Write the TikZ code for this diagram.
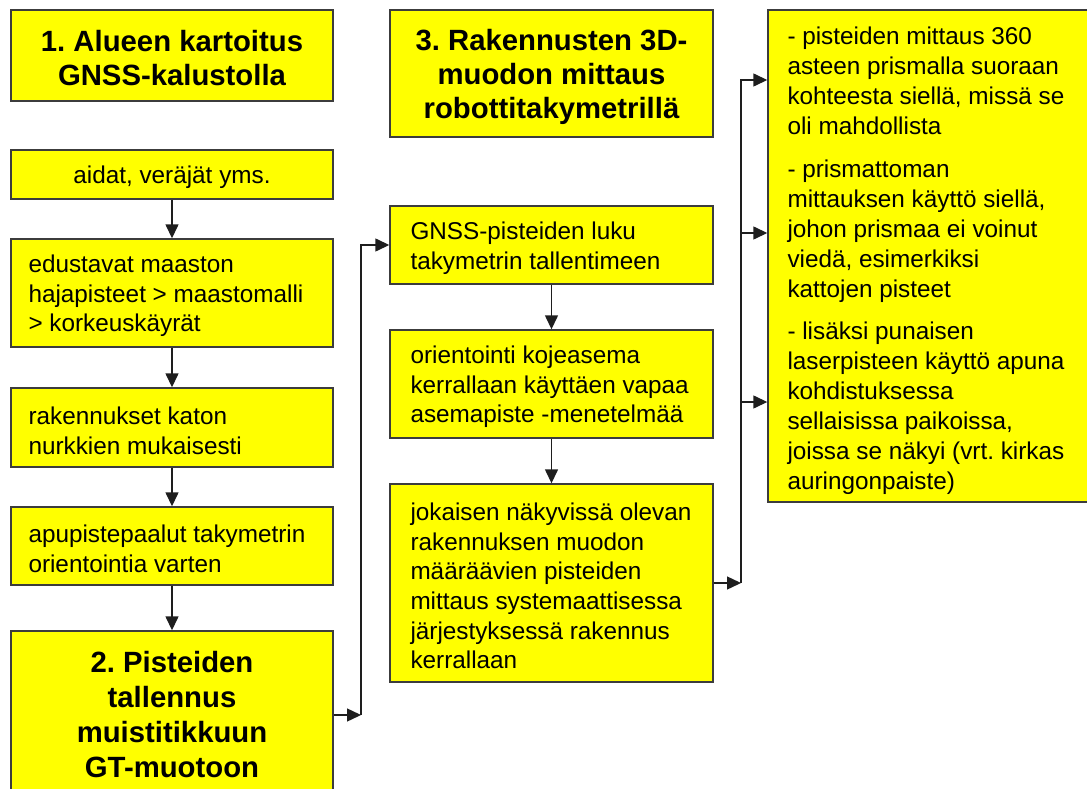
\documentclass[tikz,border=0pt]{standalone}
\usepackage{fontspec}
\setmainfont{Liberation Sans}
\usetikzlibrary{arrows.meta}

\definecolor{boxyellow}{RGB}{255,255,0}
\definecolor{edge}{RGB}{60,60,60}
\definecolor{wirecol}{RGB}{30,30,30}

\tikzset{
  box/.style={draw=edge, line width=1.4pt, fill=boxyellow, inner sep=0pt},
  body/.style={font=\fontsize{24.3pt}{29.7pt}\selectfont, align=left, inner sep=0pt, anchor=west, yshift=-3pt},
  plain/.style={font=\fontsize{24.3pt}{29.7pt}\selectfont, align=center, inner sep=0pt, yshift=-3pt},
  headline/.style={font=\fontsize{29.3pt}{34pt}\selectfont\bfseries, align=center, inner sep=0pt},
  conn/.style={draw=wirecol, line width=1.4pt, -{Triangle[length=14pt,width=13pt]}},
}

\begin{document}
\frenchspacing
\begin{tikzpicture}[x=1pt,y=1pt]
\useasboundingbox (0,0) rectangle (1087,-789);

% left column: GNSS survey
\node[box, minimum width=322pt, minimum height=91pt] (t1) at (172,-55.5) {};
\node[headline, yshift=-3pt] (t1-t) at (t1.center) {1. Alueen kartoitus\\GNSS-kalustolla};
\node[box, minimum width=322pt, minimum height=49pt] (aidat) at (172,-174.5) {};
\node[plain] (aidat-t) at (aidat.center) {aidat, veräjät yms.};
\node[box, minimum width=322pt, minimum height=108pt] (edu) at (172,-293) {};
\node[body] (edu-t) at ([xshift=18pt]edu.west)
  {edustavat maaston\\hajapisteet > maastomalli\\> korkeuskäyrät};
\node[box, minimum width=322pt, minimum height=79pt] (rak) at (172,-427.5) {};
\node[body] (rak-t) at ([xshift=18pt]rak.west)
  {rakennukset katon\\nurkkien mukaisesti};
\node[box, minimum width=322pt, minimum height=78pt] (apu) at (172,-546) {};
\node[body] (apu-t) at ([xshift=18pt]apu.west)
  {apupistepaalut takymetrin\\orientointia varten};
\node[box, minimum width=322pt, minimum height=168pt] (b2) at (172,-715) {};
\node[headline, font=\fontsize{29.3pt}{35pt}\selectfont\bfseries] (b2-t) at (b2.center)
  {2. Pisteiden\\tallennus\\muistitikkuun\\GT-muotoon};

% middle column: total station
\node[box, minimum width=323pt, minimum height=127pt] (t3) at (551.5,-73.5) {};
\node[headline, yshift=-3pt] (t3-t) at (t3.center) {3. Rakennusten 3D-\\muodon mittaus\\robottitakymetrillä};
\node[box, minimum width=323pt, minimum height=78pt] (gnss) at (551.5,-245) {};
\node[body] (gnss-t) at ([xshift=21pt]gnss.west)
  {GNSS-pisteiden luku\\takymetrin tallentimeen};
\node[box, minimum width=323pt, minimum height=108pt] (ori) at (551.5,-384) {};
\node[body] (ori-t) at ([xshift=21pt]ori.west)
  {orientointi kojeasema\\kerrallaan käyttäen vapaa\\asemapiste -menetelmää};
\node[box, minimum width=323pt, minimum height=198pt] (jok) at (551.5,-583) {};
\node[body] (jok-t) at ([xshift=21pt]jok.west)
  {jokaisen näkyvissä olevan\\rakennuksen muodon\\määräävien pisteiden\\mittaus systemaattisessa\\järjestyksessä rakennus\\kerrallaan};

% right column: measuring methods
\node[box, minimum width=332pt, minimum height=492pt] (rb) at (934,-256) {};
\node[body, font=\fontsize{24.3pt}{30pt}\selectfont, yshift=-2pt] (rb-t) at ([xshift=20pt]rb.west)
  {- pisteiden mittaus 360\\asteen prismalla suoraan\\kohteesta siellä, missä se\\oli mahdollista\\[12.5pt]
   - prismattoman\\mittauksen käyttö siellä,\\johon prismaa ei voinut\\viedä, esimerkiksi\\kattojen pisteet\\[12.5pt]
   - lisäksi punaisen\\laserpisteen käyttö apuna\\kohdistuksessa\\sellaisissa paikoissa,\\joissa se näkyi (vrt. kirkas\\auringonpaiste)};

% junction points of the elbow connectors
\coordinate (j1) at (361,-715);
\coordinate (j2) at (741,-583);

% flow in the left column
\draw[conn] (aidat.south) -- (edu.north);
\draw[conn] (edu.south) -- (rak.north);
\draw[conn] (rak.south) -- (apu.north);
\draw[conn] (apu.south) -- (b2.north);

% from the left column to the middle column
\draw[conn] (b2.east) -- (j1);
\draw[conn] (j1) |- (gnss.west);

% flow in the middle column
\draw[conn] (gnss.south) -- (ori.north);
\draw[conn] (ori.south) -- (jok.north);

% from the middle column to the right box
\draw[conn] (jok.east) -- (j2);
\draw[conn] (j2) |- ([yshift=176pt]rb.west);
\draw[conn] (j2) |- ([yshift=23pt]rb.west);
\draw[conn] (j2) |- ([yshift=-146pt]rb.west);
\end{tikzpicture}
\end{document}
